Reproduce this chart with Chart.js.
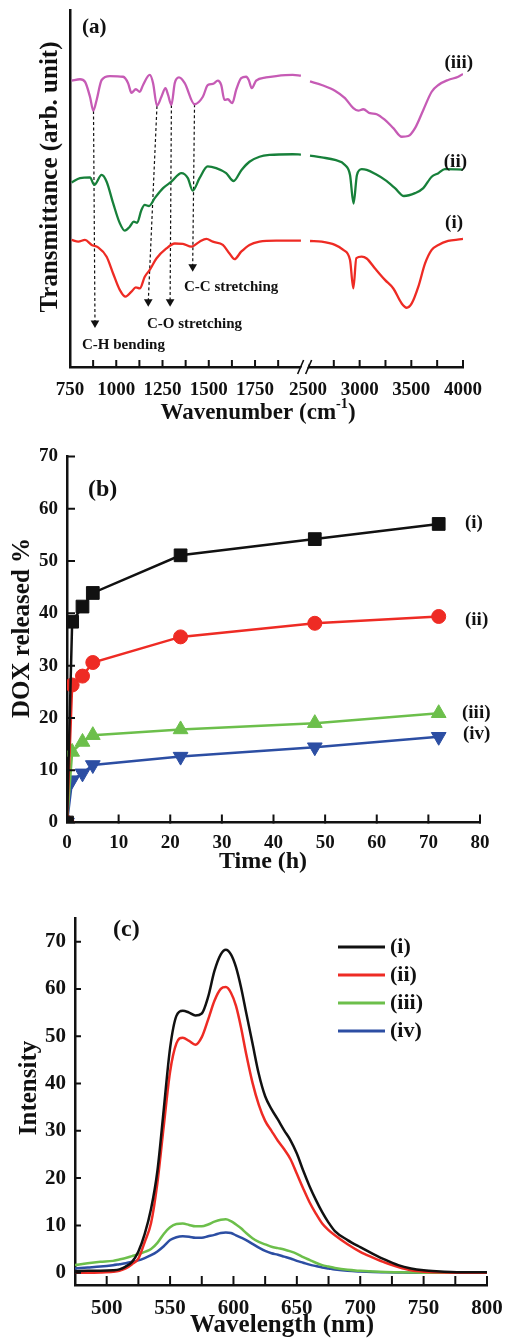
<!DOCTYPE html>
<html>
<head>
<meta charset="utf-8">
<script src="https://cdn.jsdelivr.net/npm/chart.js@4.4.0/dist/chart.umd.min.js"></script>
<style>
html, body { margin: 0; padding: 0; background: #fff; }
#wrap { position: relative; width: 506px; height: 1339px; overflow: hidden; }
canvas { position: absolute; left: 0; }
</style>
</head>
<body>
<div id="wrap">
  <canvas id="ftir" width="506" height="435" style="top:0px"></canvas>
  <canvas id="release" width="506" height="440" style="top:435px"></canvas>
  <canvas id="pl" width="506" height="464" style="top:875px"></canvas>
</div>
<script>
// ---- (a) FTIR, wavenumber (cm-1) vs transmittance (arb.)
const ftirNames = ['(i)', '(ii)', '(iii)'];
const ftirWnI = [759,795,831,867,902,948,983,1019,1050,1082,1106,1127,1154,1181,1217,1271,1316,1360,1406,1450,1487,1522,1576,1612,1639,1675,1720,1774,1864,1998,
                 2520,2633,2761,2842,2907,2939,2968,3020,3068,3149,3245,3326,3407,3455,3504,3568,3633,3697,3762,3856,3985,4000];
const ftirTI = [35.6,35.1,35.6,34.2,33.5,30.9,26.2,21.6,19.7,21.1,22.3,22.0,25.3,27.2,30.4,33.2,34.6,34.5,33.7,35.1,35.9,35.1,34.2,31.8,30.2,32.3,34.2,35.1,35.4,35.4,
                35.3,35.1,34.2,32.8,30.0,22.0,30.5,30.9,30.4,27.6,24.4,22.0,17.8,16.6,17.8,22.5,29.0,32.8,34.2,35.3,35.8,35.9];
const ftirWnII = [759,804,858,881,921,948,983,1019,1046,1073,1095,1113,1136,1154,1177,1208,1253,1298,1352,1387,1413,1450,1494,1540,1594,1634,1677,1720,1774,1828,1953,1998,
                  2520,2633,2761,2858,2907,2941,2974,3020,3068,3149,3245,3342,3429,3536,3616,3697,3762,3824,4000];
const ftirTII = [51.7,52.9,53.1,51.0,53.8,51.9,45.9,40.3,38.2,39.3,40.7,40.4,44.0,45.4,45.1,47.3,50.1,51.9,54.3,52.9,49.4,52.9,56.2,55.7,54.3,52.1,55.2,57.5,58.9,59.4,59.6,59.5,
                 59.2,58.7,58.0,56.6,53.8,45.8,53.8,55.4,55.2,54.1,52.4,50.1,47.9,48.7,50.1,53.3,54.3,55.4,55.3];
const ftirWnIII = [759,804,831,858,876,894,921,966,1037,1064,1082,1106,1127,1145,1181,1199,1220,1244,1266,1280,1298,1316,1339,1370,1423,1468,1495,1522,1549,1567,1585,1603,1627,1648,1675,1702,1716,1732,1756,1810,1864,1953,1998,
                   2520,2633,2761,2858,2939,2987,3035,3100,3165,3245,3326,3407,3471,3536,3616,3697,3762,3856,3954,4000];
const ftirTIII = [80.2,80.6,79.9,75.7,71.8,74.8,80.4,81.5,81.3,79.5,76.8,77.8,77.1,79.0,81.8,79.5,73.2,75.7,78.1,76.2,73.4,79.5,81.1,79.5,73.6,75.7,79.0,79.3,80.2,79.0,74.8,75.0,73.9,77.6,80.9,81.3,80.4,78.1,80.2,81.1,81.5,81.8,81.6,
                  80.0,79.0,77.4,75.3,72.5,71.8,72.2,71.1,70.8,69.2,66.9,64.5,64.7,66.9,72.0,77.1,79.0,80.4,81.3,82.1];
const ftirTickWn = [750,875,1000,1125,1250,1375,1500,1625,1750,1875,2500,2750,3000,3250,3500,3750,4000];
const ftirTickText = ['750','','1000','','1250','','1500','','1750','','2500','','3000','','3500','','4000'];
// band assignment arrows (start at dip of (iii), end at arrow head)
const arrowFromWn = [877, 1220, 1298, 1423];
const arrowFromT = [71.7, 73.1, 73.4, 73.6];
const arrowToWn = [885, 1173, 1291, 1413];
const arrowToT = [12.3, 18.3, 18.3, 28.1];
const bandText = ['C-H bending', 'C-O stretching', 'C-C stretching'];
const bandTextWn = [815, 1166, 1366];
const bandTextT = [6.2, 12.0, 22.4];

// ---- (b) DOX release
const releaseNames = ['(i)', '(ii)', '(iii)', '(iv)'];
const timeH = [0, 1, 3, 5, 22, 48, 72];
const releaseI = [0, 38.4, 41.3, 43.9, 51.1, 54.2, 57.1];
const releaseII = [0, 26.3, 28.0, 30.6, 35.5, 38.1, 39.4];
const releaseIII = [0, 13.5, 15.4, 16.7, 17.8, 19.0, 20.9];
const releaseIV = [0, 8.1, 9.4, 11.0, 12.6, 14.4, 16.4];
const timeTicks = [0, 10, 20, 30, 40, 50, 60, 70, 80];
const releaseTicks = [0, 10, 20, 30, 40, 50, 60, 70];

// ---- (c) fluorescence
const plNames = ['(i)', '(ii)', '(iii)', '(iv)'];
const wavelength = [475,485,495,505,510,515,520,525,530,535,540,545,550,555,560,565,570,575,580,585,590,594,598,602,606,610,615,620,625,630,635,640,645,650,655,660,665,670,675,680,690,700,710,720,730,740,750,760,780,800];
const plI = [0.3,0.4,0.4,0.5,0.7,1.3,2.3,4.5,8.2,13.5,21.5,34.5,47.5,54.3,55.4,55.0,54.4,54.8,58.3,63.8,67.3,68.3,67.3,64.6,60.3,55.0,48.5,42.0,37.3,34.6,32.4,30.1,28.0,25.2,21.6,18.3,15.4,12.8,10.6,8.8,6.9,5.4,4.0,2.7,1.6,0.9,0.5,0.3,0.1,0.1];
const plII = [0,0,0.05,0.2,0.4,0.9,1.8,3.0,6.5,10.5,19.0,31.0,42.5,48.5,49.7,49.0,48.2,49.8,53.5,57.5,60.0,60.4,59.2,56.4,51.8,46.3,40.2,35.5,32.1,30.0,27.9,26.1,24.0,20.9,17.8,14.9,12.5,10.4,9.0,7.9,6.0,4.4,3.2,2.1,1.2,0.5,0.2,0.1,0,0];
const plIII = [1.6,2.0,2.3,2.5,2.8,3.1,3.5,3.9,4.4,5.0,6.3,8.2,9.6,10.3,10.4,10.1,9.8,9.8,10.2,10.8,11.2,11.3,10.9,10.2,9.4,8.4,7.3,6.5,6.0,5.5,5.2,4.9,4.5,4.0,3.3,2.7,2.1,1.6,1.3,1.0,0.6,0.4,0.25,0.15,0.1,0.05,0,0,0,0];
const plIV = [0.9,1.1,1.3,1.6,1.8,2.0,2.3,2.6,3.1,3.7,4.5,5.6,6.9,7.5,7.7,7.6,7.4,7.4,7.7,8.0,8.4,8.5,8.4,7.9,7.4,6.9,6.1,5.3,4.6,4.1,3.8,3.4,3.0,2.5,2.1,1.7,1.4,1.1,0.9,0.7,0.4,0.25,0.15,0.1,0.05,0,0,0,0,0];
const wlTicks = [475,500,525,550,575,600,625,650,675,700,725,750,775,800];
const intTicks = [0,5,10,15,20,25,30,35,40,45,50,55,60,65,70,75];

const SERIF = '"Liberation Serif", "Times New Roman", serif';
const INK = '#111111';
Chart.defaults.font.family = SERIF;
Chart.defaults.font.weight = 'bold';
Chart.defaults.color = INK;
Chart.defaults.animation = false;

// broken axis: 2500-4000 squeezed after 2000
function toU(wn) { return wn < 2250 ? wn : 2036 + (wn - 2500) * 0.5586; }

function ftirPoints(wn, t) {
    const pts = [];
    wn.forEach((w, i) => {
        if (i > 0 && wn[i - 1] < 2250 && w >= 2250) {
            pts.push({ x: (toU(wn[i - 1]) + toU(w)) / 2, y: null });
        }
        pts.push({ x: toU(w), y: t[i] });
    });
    return pts;
}

function xy(xs, ys) { return xs.map((x, i) => ({ x: x, y: ys[i] })); }

// keep the plot box where it is, whatever the edge labels want
function fixBox(size) {
    return s => {
        if (s.isHorizontal()) s.height = size; else s.width = size;
        s.paddingLeft = 0; s.paddingRight = 0; s.paddingTop = 0; s.paddingBottom = 0;
    };
}

function drawText(ctx, it, x, y) {
    ctx.save();
    ctx.translate(x, y);
    if (it.rot) ctx.rotate(it.rot);
    ctx.fillStyle = INK;
    ctx.textBaseline = 'middle';
    ctx.textAlign = 'left';
    const parts = Array.isArray(it.text) ? it.text : [{ t: it.text }];
    const fonts = parts.map(p => 'bold ' + (p.sup ? it.size * 0.62 : it.size) + 'px ' + SERIF);
    const widths = parts.map((p, i) => { ctx.font = fonts[i]; return ctx.measureText(p.t).width; });
    const total = widths.reduce((a, b) => a + b, 0);
    let cx = it.align === 'left' ? 0 : (it.align === 'right' ? -total : -total / 2);
    parts.forEach((p, i) => {
        ctx.font = fonts[i];
        ctx.fillText(p.t, cx, p.sup ? -it.size * 0.36 : 0);
        cx += widths[i];
    });
    ctx.restore();
}

// free text, in canvas pixels or in data units (dx/dy)
function textsPlugin(items) {
    return {
        id: 'texts',
        afterDraw(chart) {
            items.forEach(it => {
                let x = it.x, y = it.y;
                if (it.dx !== undefined) {
                    x = chart.scales.x.getPixelForValue(it.dx);
                    y = chart.scales.y.getPixelForValue(it.dy);
                }
                drawText(chart.ctx, it, x, y);
            });
        }
    };
}

// tick marks pointing into the plot
function drawInTicks(chart, xLen, yLen) {
    const ctx = chart.ctx;
    const sx = chart.scales.x, sy = chart.scales.y;
    const bottom = chart.chartArea.bottom, left = chart.chartArea.left;
    ctx.save();
    ctx.setLineDash([]);
    ctx.globalAlpha = 1;
    ctx.strokeStyle = INK;
    ctx.lineWidth = 2;
    ctx.beginPath();
    if (xLen) sx.ticks.forEach(t => {
        const p = sx.getPixelForValue(t.value);
        ctx.moveTo(p, bottom + 1); ctx.lineTo(p, bottom - xLen);
    });
    if (yLen) sy.ticks.forEach(t => {
        const p = sy.getPixelForValue(t.value);
        ctx.moveTo(left - 1, p); ctx.lineTo(left + yLen, p);
    });
    ctx.stroke();
    ctx.restore();
}

function inTicksPlugin(xLen, yLen) {
    return {
        id: 'inTicks',
        afterDraw(chart) { drawInTicks(chart, xLen, yLen); }
    };
}

// ticks of the broken FTIR axis plus the "//" mark
const axisBreak = {
    id: 'axisBreak',
    afterDraw(chart) {
        drawInTicks(chart, 7, 0);
        const ctx = chart.ctx;
        const px = chart.scales.x.getPixelForValue((toU(2000) + toU(2500)) / 2);
        const y = chart.chartArea.bottom;
        ctx.save();
        ctx.fillStyle = '#fff';
        ctx.beginPath();
        ctx.moveTo(px - 6, y + 8); ctx.lineTo(px, y - 8); ctx.lineTo(px + 6, y - 8); ctx.lineTo(px, y + 8);
        ctx.closePath();
        ctx.fill();
        ctx.strokeStyle = INK;
        ctx.lineWidth = 1.6;
        ctx.beginPath();
        ctx.moveTo(px - 7, y + 7); ctx.lineTo(px - 1, y - 7);
        ctx.moveTo(px + 1, y + 7); ctx.lineTo(px + 7, y - 7);
        ctx.stroke();
        ctx.restore();
    }
};

const plLegend = {
    id: 'plLegend',
    afterDraw(chart) {
        const ctx = chart.ctx;
        chart.data.datasets.forEach((ds, i) => {
            const y = 72 + i * 28;
            ctx.save();
            ctx.strokeStyle = ds.borderColor;
            ctx.lineWidth = 3;
            ctx.beginPath(); ctx.moveTo(338, y); ctx.lineTo(385, y); ctx.stroke();
            ctx.fillStyle = INK;
            ctx.font = 'bold 22px ' + SERIF;
            ctx.textBaseline = 'middle';
            ctx.fillText(ds.label, 390, y);
            ctx.restore();
        });
    }
};

const axisStyle = {
    grid: { display: false, drawTicks: false },
    border: { display: true, color: INK, width: 2.5 }
};

// ---------- (a)
const ftirColors = ['#ee2b24', '#17803a', '#c65bb5'];
const ftirSets = [[ftirWnI, ftirTI], [ftirWnII, ftirTII], [ftirWnIII, ftirTIII]].map((s, i) => ({
    label: ftirNames[i],
    data: ftirPoints(s[0], s[1]),
    borderColor: ftirColors[i],
    borderWidth: 2.3,
    pointRadius: 0,
    cubicInterpolationMode: 'monotone'
}));
arrowFromWn.forEach((w, i) => {
    ftirSets.push({
        label: 'arrow' + i,
        data: [{ x: toU(w), y: arrowFromT[i] }, { x: toU(arrowToWn[i]), y: arrowToT[i] }],
        borderColor: INK,
        backgroundColor: INK,
        borderWidth: 1.2,
        borderDash: [3, 2.5],
        pointRadius: [0, 5],
        pointStyle: 'triangle',
        pointRotation: 180,
        pointBorderWidth: 0
    });
});

const ftirTexts = [
    { text: '(a)', x: 82, y: 28, size: 21, align: 'left' },
    { text: '(iii)', x: 473, y: 63, size: 19, align: 'right' },
    { text: '(ii)', x: 467, y: 162, size: 19, align: 'right' },
    { text: '(i)', x: 463, y: 223, size: 19, align: 'right' },
    { text: 'Transmittance (arb. unit)', x: 51, y: 177, size: 25, rot: -Math.PI / 2 },
    { text: [{ t: 'Wavenumber (cm' }, { t: '-1', sup: true }, { t: ')' }], x: 258, y: 413, size: 23 }
].concat(bandText.map((t, i) => ({ text: t, dx: toU(bandTextWn[i]), dy: bandTextT[i], size: 15, align: 'left' })));

new Chart(document.getElementById('ftir'), {
    type: 'line',
    data: { datasets: ftirSets },
    plugins: [textsPlugin(ftirTexts), axisBreak],
    options: {
        responsive: false,
        devicePixelRatio: 1,
        layout: { padding: { top: 10, right: 43, left: 0, bottom: 0 } },
        plugins: { legend: { display: false }, tooltip: { enabled: false } },
        scales: {
            x: Object.assign({
                type: 'linear',
                min: toU(750),
                max: toU(4000),
                afterBuildTicks: s => { s.ticks = ftirTickWn.map(w => ({ value: toU(w) })); },
                afterFit: fixBox(68),
                ticks: { autoSkip: false, maxRotation: 0, padding: 12, font: { size: 19 }, callback: (v, i) => ftirTickText[i] }
            }, axisStyle),
            y: {
                min: 0,
                max: 100,
                afterFit: fixBox(70),
                grid: { display: false },
                border: { display: true, color: INK, width: 2.5 },
                ticks: { display: false }
            }
        }
    }
});

// ---------- (b)
const relColors = ['#111111', '#ee2b24', '#6cbf4b', '#2c4ea3'];
const relStyles = ['rect', 'circle', 'triangle', 'triangle'];
const relRadius = [9, 7, 8.5, 8.5];
const relRot = [0, 0, 0, 180];
const relSets = [releaseI, releaseII, releaseIII, releaseIV].map((v, i) => ({
    label: releaseNames[i],
    data: xy(timeH, v),
    borderColor: relColors[i],
    backgroundColor: relColors[i],
    borderWidth: 2.5,
    pointStyle: relStyles[i],
    pointRadius: relRadius[i],
    pointRotation: relRot[i],
    pointBorderWidth: 1,
    tension: 0,
    clip: { left: 0, bottom: 0, top: 20, right: 20 }
}));

const relTexts = [
    { text: '(b)', x: 88, y: 55, size: 24, align: 'left' },
    { text: '(i)', x: 465, y: 88, size: 19, align: 'left' },
    { text: '(ii)', x: 465, y: 185, size: 19, align: 'left' },
    { text: '(iii)', x: 462, y: 278, size: 19, align: 'left' },
    { text: '(iv)', x: 463, y: 299, size: 19, align: 'left' },
    { text: 'DOX released %', x: 23, y: 193, size: 25, rot: -Math.PI / 2 },
    { text: 'Time (h)', x: 263, y: 427, size: 24 }
];

new Chart(document.getElementById('release'), {
    type: 'line',
    data: { datasets: relSets },
    plugins: [textsPlugin(relTexts), inTicksPlugin(8, 8)],
    options: {
        responsive: false,
        devicePixelRatio: 1,
        layout: { padding: { top: 21.5, right: 26, left: 0, bottom: 0 } },
        plugins: { legend: { display: false }, tooltip: { enabled: false } },
        scales: {
            x: Object.assign({
                type: 'linear',
                min: 0,
                max: 80,
                afterBuildTicks: s => { s.ticks = timeTicks.map(v => ({ value: v })); },
                afterFit: fixBox(52.5),
                ticks: { autoSkip: false, maxRotation: 0, padding: 9, font: { size: 19 } }
            }, axisStyle),
            y: Object.assign({
                min: 0,
                max: 70,
                afterBuildTicks: s => { s.ticks = releaseTicks.map(v => ({ value: v })); },
                afterFit: fixBox(67),
                ticks: { padding: 9, font: { size: 19 } }
            }, axisStyle)
        }
    }
});

// ---------- (c)
const plColors = ['#111111', '#ee2b24', '#6cbf4b', '#2c4ea3'];
const plSets = [plI, plII, plIII, plIV].map((v, i) => ({
    label: plNames[i],
    data: xy(wavelength, v),
    borderColor: plColors[i],
    borderWidth: 2.5,
    pointRadius: 0,
    cubicInterpolationMode: 'monotone'
}));

const plTexts = [
    { text: '(c)', x: 113, y: 55, size: 24, align: 'left' },
    { text: 'Intensity', x: 30, y: 213, size: 25, rot: -Math.PI / 2 },
    { text: 'Wavelength (nm)', x: 282, y: 451, size: 25 }
];

new Chart(document.getElementById('pl'), {
    type: 'line',
    data: { datasets: plSets },
    plugins: [plLegend, textsPlugin(plTexts), inTicksPlugin(9, 6)],
    options: {
        responsive: false,
        devicePixelRatio: 1,
        layout: { padding: { top: 43, right: 19, left: 0, bottom: 0 } },
        plugins: { legend: { display: false }, tooltip: { enabled: false } },
        scales: {
            x: Object.assign({
                type: 'linear',
                min: 475,
                max: 800,
                afterBuildTicks: s => { s.ticks = wlTicks.map(v => ({ value: v })); },
                afterFit: fixBox(54),
                ticks: { autoSkip: false, maxRotation: 0, padding: 11, font: { size: 21 },
                         callback: v => (v % 50 === 0 ? String(v) : '') }
            }, axisStyle),
            y: Object.assign({
                min: -2.6,
                max: 75,
                afterBuildTicks: s => { s.ticks = intTicks.map(v => ({ value: v })); },
                afterFit: fixBox(75),
                ticks: { padding: 9, font: { size: 21 }, callback: v => (v % 10 === 0 ? String(v) : '') }
            }, axisStyle)
        }
    }
});
</script>
</body>
</html>
